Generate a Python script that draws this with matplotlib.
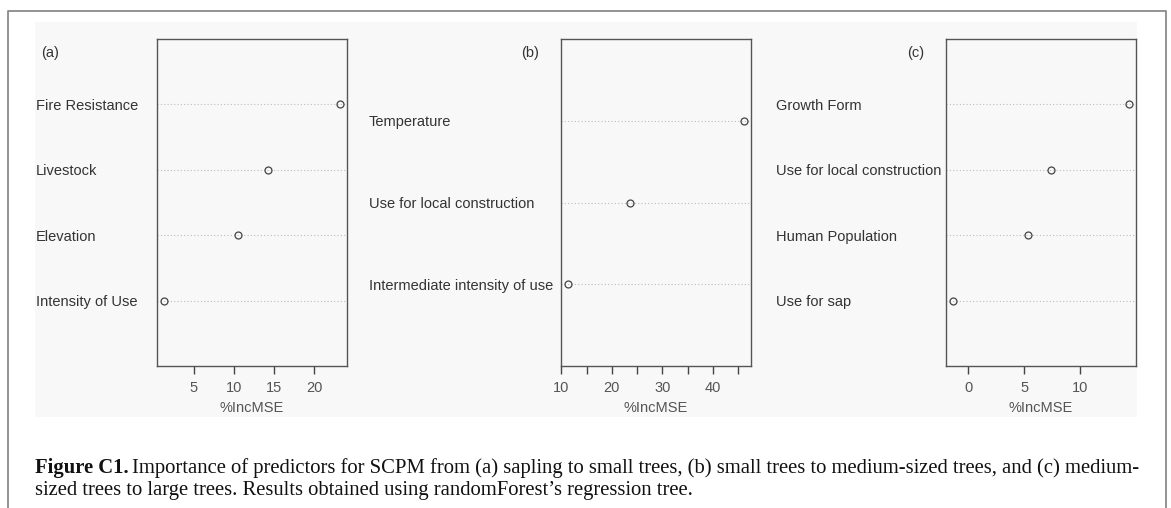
import matplotlib
matplotlib.use("Agg")
import matplotlib.pyplot as plt
from matplotlib.patches import Rectangle
from matplotlib.lines import Line2D

plt.rcParams['font.family'] = ['Liberation Sans', 'DejaVu Sans']

# data (%IncMSE), listed bottom -> top
labels_a = ['Intensity of Use', 'Elevation', 'Livestock', 'Fire Resistance']
values_a = [1.3, 10.55, 14.3, 23.2]
ticks_a = [5, 10, 15, 20]

labels_b = ['Intermediate intensity of use', 'Use for local construction', 'Temperature']
values_b = [11.3, 23.5, 46.2]
ticks_b = [10, 15, 20, 25, 30, 35, 40, 45]
ticklabels_b = ['10', '', '20', '', '30', '', '40', '']

labels_c = ['Use for sap', 'Human Population', 'Use for local construction', 'Growth Form']
values_c = [-1.34, 5.39, 7.36, 14.35]
ticks_c = [0, 5, 10]

caption_bold = 'Figure C1.'
caption_line1 = ('Importance of predictors for SCPM from (a) sapling to small trees, '
                 '(b) small trees to medium-sized trees, and (c) medium-')
caption_line2 = 'sized trees to large trees. Results obtained using randomForest\u2019s regression tree.'

W, H = 1171, 508
fig = plt.figure(figsize=(W / 100, H / 100), dpi=100)
fig.patch.set_facecolor('white')

# light grey plotting area and the outer frame
fig.patches.append(Rectangle((35 / W, 1 - 417 / H), (1137 - 35) / W, (417 - 22) / H,
                             transform=fig.transFigure, facecolor='#f8f8f8',
                             edgecolor='none', zorder=-5))
frame_col = '#8a8a8a'
fig.lines.append(Line2D([8 / W, 8 / W, 1166 / W, 1166 / W], [0, 1 - 11 / H, 1 - 11 / H, 0],
                        transform=fig.transFigure, color=frame_col, lw=1.3, zorder=-4))

ink = '#333333'
panels = [
    # (labels, values, ticks, ticklabels, axes left px, label x px, tag, tag x px, tag ha)
    (labels_a, values_a, ticks_a, None, 157, 36, '(a)', 41, 'left'),
    (labels_b, values_b, ticks_b, ticklabels_b, 561, 369, '(b)', 530, 'center'),
    (labels_c, values_c, ticks_c, None, 946, 776, '(c)', 916, 'center'),
]

for labels, values, ticks, tlabels, left_px, lab_px, tag, tag_px, tag_ha in panels:
    ax = fig.add_axes([left_px / W, 1 - 366 / H, 190 / W, (366 - 39) / H])
    ax.set_facecolor('none')
    n = len(values)
    ypos = list(range(1, n + 1))
    for y in ypos:
        ax.axhline(y, color='#bdbdbd', lw=0.8, ls=(0, (1, 2)), zorder=1)
    ax.plot(values, ypos, 'o', ms=5, mfc='none', mec='#444444', mew=0.9, zorder=3)
    ax.margins(x=0.04)
    ax.set_ylim(0, n + 1)

    ax.set_xticks(ticks)
    if tlabels is not None:
        ax.set_xticklabels(tlabels)
    ax.tick_params(axis='x', direction='out', length=6, width=1, color='#444444',
                   labelsize=10.5, labelcolor='#555555', pad=5)

    # row labels as left-aligned y tick labels
    ax.set_yticks(ypos)
    ax.set_yticklabels(labels, fontsize=10.5, color=ink, ha='left')
    ax.tick_params(axis='y', length=0, pad=(left_px - lab_px) * 0.72)

    ax.set_xlabel('%IncMSE', fontsize=10.5, color='#555555', labelpad=4)
    for sp in ax.spines.values():
        sp.set_color('#555555')
        sp.set_linewidth(1.0)

    fig.text(tag_px / W, 1 - 53 / H, tag, fontsize=10.5, color=ink,
             ha=tag_ha, va='center')

# caption
serif = ['Liberation Serif', 'DejaVu Serif']
cap_size = 14.9
t_bold = fig.text(35 / W, 1 - 468 / H, caption_bold, family=serif, fontsize=cap_size,
                  fontweight='bold', color='#111111', va='center')
fig.canvas.draw()
bb = t_bold.get_window_extent()
fig.text((bb.x1 + 3) / W, 1 - 468 / H, caption_line1, family=serif, fontsize=cap_size,
         color='#111111', va='center')
fig.text(35 / W, 1 - 490 / H, caption_line2, family=serif, fontsize=cap_size,
         color='#111111', va='center')

fig.savefig('out.png', dpi=100)
